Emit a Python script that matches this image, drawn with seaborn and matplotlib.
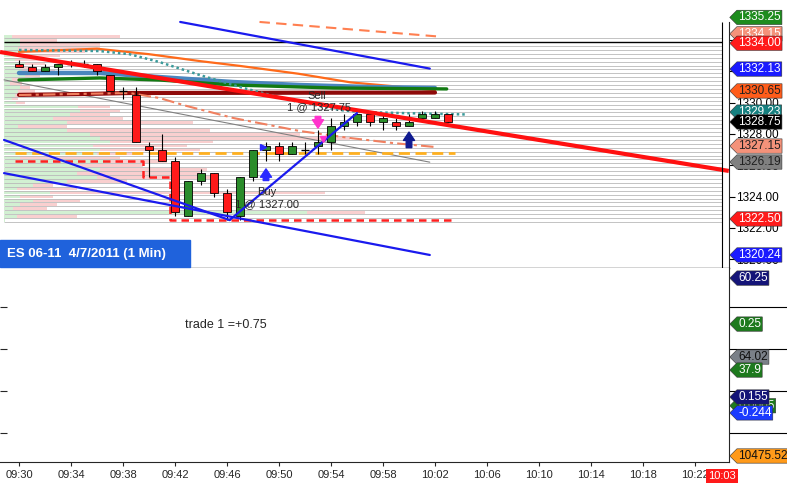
import numpy as np
import pandas as pd
import matplotlib
matplotlib.use("Agg")
import matplotlib.pyplot as plt
from matplotlib.path import Path
import seaborn as sns

# ---------------- data ----------------
times = ["09:30", "09:31", "09:32", "09:33", "09:34", "09:35", "09:36", "09:37", "09:38", "09:39",
         "09:40", "09:41", "09:42", "09:43", "09:44", "09:45", "09:46", "09:47", "09:48", "09:49",
         "09:50", "09:51", "09:52", "09:53", "09:54", "09:55", "09:56", "09:57", "09:58", "09:59",
         "10:00", "10:01", "10:02", "10:03"]
opens = [1332.5, 1332.25, 1332.0, 1332.25, 1332.5, 1332.5, 1332.5, 1331.75, 1330.75, 1330.5,
         1327.25, 1327.0, 1326.25, 1322.75, 1325.0, 1325.5, 1324.25, 1322.75, 1325.25, 1327.0,
         1327.25, 1326.75, 1327.0, 1327.25, 1327.5, 1328.5, 1328.75, 1329.25, 1328.75, 1328.75,
         1328.5, 1329.0, 1329.0, 1329.25]
highs = [1332.75, 1332.5, 1332.5, 1332.5, 1332.75, 1332.75, 1332.5, 1331.75, 1331.0, 1331.0,
         1327.5, 1328.0, 1326.5, 1325.0, 1325.75, 1325.5, 1324.5, 1325.25, 1327.0, 1327.5,
         1327.5, 1327.5, 1327.5, 1328.25, 1329.0, 1329.25, 1329.25, 1329.25, 1329.25, 1329.0,
         1329.25, 1329.5, 1329.5, 1329.25]
lows = [1332.25, 1332.0, 1332.0, 1331.75, 1332.25, 1332.25, 1331.75, 1330.75, 1330.25, 1327.5,
        1325.25, 1326.25, 1322.75, 1322.75, 1324.75, 1324.0, 1322.5, 1322.5, 1325.0, 1326.25,
        1326.25, 1326.75, 1326.75, 1326.75, 1327.0, 1328.25, 1328.5, 1328.5, 1328.25, 1328.25,
        1328.5, 1329.0, 1329.0, 1328.75]
closes = [1332.25, 1332.0, 1332.25, 1332.5, 1332.5, 1332.5, 1332.0, 1330.75, 1330.75, 1327.5,
          1327.0, 1326.25, 1323.0, 1325.0, 1325.5, 1324.25, 1323.0, 1325.25, 1327.0, 1327.25,
          1326.75, 1327.25, 1327.0, 1327.5, 1328.5, 1328.75, 1329.25, 1328.75, 1329.0, 1328.5,
          1328.75, 1329.25, 1329.25, 1328.75]

# volume profile (price ladder, buy part, sell part)
profile_prices = [1334.25, 1334.0, 1333.75, 1333.5, 1333.25, 1333.0, 1332.75, 1332.5, 1332.25, 1332.0,
                  1331.75, 1331.5, 1331.25, 1331.0, 1330.75, 1330.5, 1330.25, 1330.0, 1329.75, 1329.5,
                  1329.25, 1329.0, 1328.75, 1328.5, 1328.25, 1328.0, 1327.75, 1327.5, 1327.25, 1327.0,
                  1326.75, 1326.5, 1326.25, 1326.0, 1325.75, 1325.5, 1325.25, 1325.0, 1324.75, 1324.5,
                  1324.25, 1324.0, 1323.75, 1323.5, 1323.25, 1323.0, 1322.75, 1322.5]
buy_vol = [8, 16, 16, 14, 16, 16, 11, 21, 16, 18, 21, 8, 6, 16, 14, 11, 8, 12, 74, 76,
           66, 49, 63, 14, 63, 86, 96, 106, 89, 96, 93, 16, 106, 76, 96, 73, 93, 63, 29, 13,
           46, 16, 29, 16, 9, 303, 13, 1]
sell_vol = [108, 37, 80, 82, 65, 40, 35, 20, 15, 33, 15, 18, 12, 10, 17, 10, 6, 9, 32, 40,
            40, 70, 126, 49, 143, 210, 250, 103, 94, 100, 43, 100, 57, 63, 107, 123, 116, 60, 20, 60,
            275, 33, 47, 37, 34, 58, 60, 0]

# moving averages (minute, price)
ma_orange_x = [0, 3, 6, 10, 14, 17, 21.5, 25.5, 29.5, 32]
ma_orange_y = [1333.25, 1333.35, 1333.45, 1333.1, 1332.65, 1332.35, 1331.85, 1331.3, 1331.0, 1330.8]
ma_teal_x = [0, 6.2, 8.5, 10.8, 13.9, 17.0, 20.8, 24.7, 26.2, 29.3, 34.3]
ma_teal_y = [1333.37, 1333.3, 1333.1, 1332.6, 1331.77, 1331.0, 1330.17, 1329.53, 1329.41, 1329.34, 1329.25]
ma_steel_x = [0, 6.2, 10.8, 16.5, 21.6, 27.0, 32.0]
ma_steel_y = [1331.9, 1331.9, 1331.64, 1331.32, 1331.13, 1331.0, 1330.94]
ma_green_x = [0, 6.2, 10.8, 16.5, 24.2, 32.9]
ma_green_y = [1331.45, 1331.58, 1331.45, 1331.13, 1330.94, 1330.88]
ma_maroon_x = [0, 4.7, 8.5, 32]
ma_maroon_y = [1330.5, 1330.55, 1330.62, 1330.65]
ma_coral_x = [0, 8.5, 10.8, 12.9, 16.5, 21.6, 25.5, 28.8, 32.0]
ma_coral_y = [1330.49, 1330.62, 1330.3, 1329.79, 1329.02, 1328.19, 1327.74, 1327.42, 1327.17]

# drawn lines: (start minute, start price, end minute, end price)
red_trend = (-1.46, 1333.24, 54.6, 1325.64)
blue_upper = (12.4, 1335.16, 31.6, 1332.18)
blue_lower_a = (-1.15, 1327.62, 16.2, 1322.5)
blue_lower_b = (-1.15, 1325.5, 31.6, 1320.27)
blue_rise = (16.2, 1322.5, 26.0, 1329.34)
gray_line = (-1.15, 1331.46, 31.6, 1326.2)
orange_top = (18.5, 1335.16, 32.4, 1334.22)
gold_level = 1326.8
black_level = 1333.85
stop_x = [-0.3, 9.5, 9.5, 11.6, 11.6, 33.5]
stop_y = [1326.25, 1326.25, 1325.25, 1325.25, 1322.5, 1322.5]

price_tags = ["1335.25", "1334.15", "1334.00", "1332.13", "1330.65", "1329.23",
              "1328.75", "1327.15", "1326.19", "1322.50", "1320.24"]
price_tag_y = [1335.45, 1334.4, 1333.8, 1332.15, 1330.75, 1329.4,
               1328.77, 1327.23, 1326.21, 1322.57, 1320.27]
price_tag_bg = ["#1e8c1e", "#f4927a", "#ff1a1a", "#1a1aff", "#ff5c1a", "#168080",
                "black", "#f4927a", "#808080", "#ff1a1a", "#1a1aff"]
price_tag_fg = ["white", "white", "white", "white", "#202020", "white",
                "white", "#202020", "#202020", "white", "white"]

low_tags = ["60.25", "0.25", "64.02", "37.9", "0.0005", "0.155", "-0.244", "10475.52"]
low_tag_y = [0.948, 0.711, 0.541, 0.474, 0.29, 0.335, 0.253, 0.031]
low_tag_bg = ["#141478", "#1e7a1e", "#7a8088", "#1e7a1e", "#1e7a1e", "#141478", "#1a3aff", "#ff9a1a"]
low_tag_fg = ["white", "white", "#101010", "white", "white", "white", "white", "#101010"]

tick_labels = ["09:30", "09:34", "09:38", "09:42", "09:46", "09:50", "09:54", "09:58",
               "10:02", "10:06", "10:10", "10:14", "10:18", "10:22"]

# ---------------- style ----------------
sns.set_style("white")
plt.rcParams["font.family"] = ["Liberation Sans", "DejaVu Sans"]

GREEN = "#2a8c2a"
RED = "#ff1a1a"
BLUE = "#1a1aee"
px_per_min = 13.0
xmin, xmax = -1.4615, 54.615
row_left = -1.154
plot_right = 54.08


def tag_box(x0, y0, width, height, mutation_size):
    pad = 0.1 * mutation_size
    x0, y0 = x0 - pad, y0 - pad
    x1, y1 = x0 + width + 2 * pad, y0 + height + 2 * pad
    tip = (y1 - y0) / 2
    return Path([(x0, y0), (x1, y0), (x1, y1), (x0, y1), (x0 - tip, (y0 + y1) / 2), (x0, y0)],
                closed=True)


fig = plt.figure(figsize=(7.87, 4.86), dpi=100)
ax = fig.add_axes([0, 0.44856, 0.9263, 0.55144])
axl = fig.add_axes([0, 0.04938, 0.9263, 0.39918])

# ---- volume profile + ladder ----
buy_w = np.array(buy_vol) / px_per_min
sell_w = np.array(sell_vol) / px_per_min
ax.barh(profile_prices, buy_w, left=row_left, height=0.21, color="#d2f0d2", lw=0, zorder=1)
ax.barh(profile_prices, sell_w, left=row_left + buy_w, height=0.21, color="#f9cfcf", lw=0, zorder=1)
ax.hlines(np.array(profile_prices) - 0.125, row_left, plot_right, color="#b9b9b9", lw=0.6, zorder=1.5)
ax.hlines(black_level, row_left, plot_right, color="black", lw=1.0, zorder=1.6)

# ---- moving averages ----
sns.lineplot(x=ma_orange_x, y=ma_orange_y, ax=ax, color="#ff6a1a", lw=1.6, sort=False, zorder=3)
sns.lineplot(x=ma_steel_x, y=ma_steel_y, ax=ax, color="#4a86be", lw=3.2, sort=False, zorder=3)
sns.lineplot(x=ma_green_x, y=ma_green_y, ax=ax, color="#127a12", lw=2.4, sort=False, zorder=3)
sns.lineplot(x=ma_maroon_x, y=ma_maroon_y, ax=ax, color="#8e0a0a", lw=3.0, sort=False, zorder=3)
sns.lineplot(x=ma_teal_x, y=ma_teal_y, ax=ax, color="#3a9a9a", lw=1.8, linestyle=(0, (1, 1.2)),
             sort=False, zorder=3)
sns.lineplot(x=ma_coral_x, y=ma_coral_y, ax=ax, color="#f08060", lw=1.5, linestyle=(0, (6, 2, 1.5, 2)),
             sort=False, zorder=3)

# ---- straight drawing lines ----
def seg(line, **kw):
    ax.plot([line[0], line[2]], [line[1], line[3]], **kw)


seg(gray_line, color="#808080", lw=0.8, zorder=2.5)
seg(orange_top, color="#ff7f50", lw=1.5, ls=(0, (5, 3)), zorder=3)
ax.hlines(gold_level, -0.3, 33.5, color="#ffb020", lw=2.0, linestyles=[(0, (4, 2))], zorder=3)
ax.plot(stop_x, stop_y, color="#ff2020", lw=1.8, ls=(0, (3, 2)), zorder=3)

# ---- candles ----
idx = np.arange(len(times))
o, h, l, c = map(np.array, (opens, highs, lows, closes))
ax.vlines(idx, l, h, color="black", lw=0.8, zorder=4)
body_col = np.where(c > o, GREEN, RED)
doji = c == o
ax.bar(idx[~doji], np.abs(c - o)[~doji], bottom=np.minimum(o, c)[~doji], width=0.62,
       color=body_col[~doji], edgecolor="black", lw=0.6, zorder=4.5)
ax.hlines(o[doji], idx[doji] - 0.31, idx[doji] + 0.31, color="black", lw=1.0, zorder=4.5)

seg(red_trend, color="#ff1010", lw=3.0, zorder=5, solid_capstyle="butt")
for line in (blue_upper, blue_lower_a, blue_lower_b, blue_rise):
    seg(line, color=BLUE, lw=1.6, zorder=5)

# ---- trade markers ----
arrow_kw = dict(arrowstyle="simple,head_width=0.8,head_length=0.6,tail_width=0.4", mutation_scale=10)
ax.annotate("", xy=(19.0, 1325.95), xytext=(19.0, 1324.85),
            arrowprops=dict(color="#2a2aff", **arrow_kw), zorder=6)
ax.annotate("", xy=(30.0, 1328.3), xytext=(30.0, 1326.95),
            arrowprops=dict(color="#101a90", **arrow_kw), zorder=6)
ax.annotate("", xy=(23.0, 1328.2), xytext=(23.0, 1329.3),
            arrowprops=dict(color="#ff33cc", **arrow_kw), zorder=6)
ax.plot([23.35], [1327.7], marker="v", color="#ff33cc", ms=5, zorder=6)
ax.plot([18.75], [1327.15], marker=">", color="#2a2aff", ms=5, zorder=6)

ax.text(18.3, 1324.3, "Buy", fontsize=8, va="center", zorder=6)
ax.text(16.6, 1323.53, "1 @ 1327.00", fontsize=8, va="center", zorder=6)
ax.text(22.2, 1330.43, "Sell", fontsize=8, va="center", zorder=6)
ax.text(20.6, 1329.73, "1 @ 1327.75", fontsize=8, va="center", zorder=6)

# ---- price axis ----
ylo = 1328 - 134 / 15.65
yhi = 1328 + 134 / 15.65
ax.set_xlim(xmin, xmax)
ax.set_ylim(ylo, yhi)
ax.set_xticks([])
ax.yaxis.tick_right()
yt = [1320, 1322, 1324, 1326, 1328, 1330, 1332, 1334]
ax.set_yticks(yt)
# 1332 and 1334 sit fully under the value tags
ax.set_yticklabels([f"{v:.2f}" if v < 1331 else "" for v in yt])
ax.tick_params(axis="y", right=True, length=4, width=0.8, pad=1, labelsize=8.5, colors="black")
for s in ("left", "top"):
    ax.spines[s].set_visible(False)
ax.spines["right"].set_bounds(ylo, 1335.16)
ax.spines["bottom"].set_linewidth(1.0)
ax.spines["right"].set_linewidth(0.8)
ax.vlines(plot_right, ylo, 1335.16, color="black", lw=0.8, zorder=6)
ax.set_xlabel("")
ax.set_ylabel("")

for txt, y, bg, fg in zip(price_tags, price_tag_y, price_tag_bg, price_tag_fg):
    ax.text(1.0125, y, txt, transform=ax.get_yaxis_transform(), ha="left", va="center",
            fontsize=8.5, color=fg, clip_on=False, zorder=8,
            bbox=dict(boxstyle=tag_box, fc=bg, ec="#303030", lw=0.4))

# ---- lower panel ----
axl.set_xlim(xmin, xmax)
axl.set_ylim(0, 1)
axl.set_xticks(np.arange(0, 53, 4))
axl.set_xticklabels(tick_labels)
axl.tick_params(axis="x", bottom=True, length=3, width=0.8, pad=3, labelsize=8)
axl.set_yticks([0.149, 0.366, 0.582, 0.799])
axl.set_yticklabels([])
axl.tick_params(axis="y", left=True, direction="in", length=5, width=0.8)
for s in ("left", "top"):
    axl.spines[s].set_visible(False)
axl.spines["right"].set_linewidth(0.8)
axl.spines["bottom"].set_linewidth(0.8)
axl.text(12.77, 0.706, "trade 1 =+0.75", transform=axl.get_xaxis_transform(),
         fontsize=9, va="center")
for f in (0.149, 0.366, 0.582, 0.799):
    axl.plot([1.0, 1.08], [f, f], transform=axl.get_yaxis_transform(), color="black",
             lw=0.8, clip_on=False)
for txt, y, bg, fg in zip(low_tags, low_tag_y, low_tag_bg, low_tag_fg):
    axl.text(1.0125, y, txt, transform=axl.get_yaxis_transform(), ha="left", va="center",
             fontsize=8.5, color=fg, clip_on=False, zorder=8,
             bbox=dict(boxstyle=tag_box, fc=bg, ec="#303030", lw=0.4))

# ---- title box and current time ----
fig.patches.append(plt.Rectangle((0, 0.4506), 190 / 787, 27 / 486, transform=fig.transFigure,
                                 color="#1f62dc", zorder=10))
fig.text(7 / 787, (486 - 254) / 486, "ES 06-11  4/7/2011 (1 Min)", color="white",
         fontsize=9.5, fontweight="bold", va="center", zorder=11)
fig.text(722 / 787, (486 - 476) / 486, "10:03", color="white", fontsize=8, ha="center",
         va="center", bbox=dict(fc="#ff1a1a", ec="none", pad=1.5))

fig.savefig("out.png", dpi=100)
